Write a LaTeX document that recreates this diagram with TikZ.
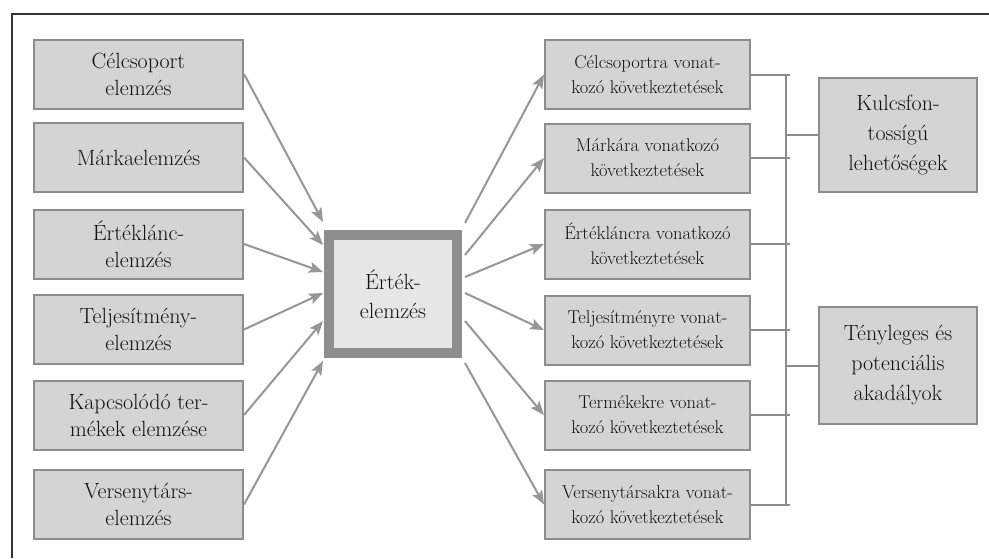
\documentclass[tikz,border=0pt]{standalone}
\usepackage{fontspec}
\usetikzlibrary{arrows.meta,calc}
\definecolor{boxfill}{HTML}{D4D4D4}
\definecolor{boxline}{HTML}{8C8C8C}
\definecolor{arrowc}{HTML}{969696}
\definecolor{centerfill}{HTML}{E6E6E6}
\definecolor{centerline}{HTML}{8E8E8E}
\definecolor{txt}{HTML}{111111}
\tikzset{
  leftbox/.style={draw=boxline, fill=boxfill, line width=2pt, minimum width=209pt, minimum height=69pt, inner sep=2pt, align=center, text=txt, font=\fontsize{22}{27}\selectfont\addfontfeatures{LetterSpace=2,FakeBold=1.8}},
  rightbox/.style={draw=boxline, fill=boxfill, line width=2pt, minimum width=205pt, minimum height=69pt, inner sep=1pt, align=center, text=txt, font=\fontsize{18.5}{25}\selectfont\addfontfeatures{LetterSpace=4,FakeBold=1.8}},
  farbox/.style={draw=boxline, fill=boxfill, line width=2pt, minimum width=158pt, inner sep=2pt, align=center, text=txt, font=\fontsize{22}{30}\selectfont\addfontfeatures{LetterSpace=2,FakeBold=1.8}},
  centerbox/.style={draw=centerline, fill=centerfill, line width=10pt, minimum width=128pt, minimum height=118pt, align=center, text=txt, font=\fontsize{22}{29}\selectfont\addfontfeatures{LetterSpace=2,FakeBold=1.8}},
  flow/.style={draw=arrowc, line width=2pt, -{Stealth[length=14pt,width=11pt,inset=3pt]}},
  bracket/.style={draw=boxline, line width=2pt},
  frameline/.style={draw=black!80, line width=2.5pt}
}
\begin{document}
\begin{tikzpicture}[x=1pt,y=-1pt]
\useasboundingbox (0,0) rectangle (989,558);
% frame
\coordinate (fa) at (12,558);
\coordinate (fb) at (12,14);
\coordinate (fc) at (989,14);
\draw[frameline] (fa) -- (fb) -- (fc);

% left boxes
\node[leftbox] (l1) at (138.5,74) {Célcsoport\\elemzés};
\node[leftbox] (l2) at (138.5,157.5) {Márkaelemzés};
\node[leftbox] (l3) at (138.5,244) {Értéklánc-\\elemzés};
\node[leftbox] (l4) at (138.5,329.5) {Teljesítmény-\\elemzés};
\node[leftbox] (l5) at (138.5,415) {Kapcsolódó ter-\\mékek elemzése};
\node[leftbox] (l6) at (138.5,504.5) {Versenytárs-\\elemzés};

% center
\node[centerbox] (c) at (393,294) {Érték-\\elemzés};

% right boxes
\node[rightbox] (r1) at (647.5,74.5) {Célcsoportra vonat-\\kozó következtetések};
\node[rightbox] (r2) at (647.5,158) {Márkára vonatkozó\\következtetések};
\node[rightbox] (r3) at (647.5,244) {Értékláncra vonatkozó\\következtetések};
\node[rightbox] (r4) at (647.5,330) {Teljesítményre vonat-\\kozó következtetések};
\node[rightbox] (r5) at (647.5,415) {Termékekre vonat-\\kozó következtetések};
\node[rightbox] (r6) at (647.5,504.5) {Versenytársakra vonat-\\kozó következtetések};

% far right boxes
\node[farbox, minimum height=114pt] (k) at (898,135) {Kulcsfon-\\tossígú\\lehetőségek};
\node[farbox, minimum height=117pt] (t) at (898,365.5) {Tényleges és\\potenciális\\akadályok};

% arrow end points at center
\coordinate (ia1) at (323,222);
\coordinate (ia2) at (323,245);
\coordinate (ia3) at (323,272);
\coordinate (ia4) at (323,293);
\coordinate (ia5) at (323,321);
\coordinate (ia6) at (323,361);
\coordinate (oa1) at (465,223);
\coordinate (oa2) at (465,255);
\coordinate (oa3) at (465,277);
\coordinate (oa4) at (465,293);
\coordinate (oa5) at (465,321);
\coordinate (oa6) at (465,363);

\foreach \i in {1,...,6} {
  \draw[flow] (l\i.east) -- (ia\i);
  \draw[flow] (oa\i) -- (r\i.west);
}

% bracket
\coordinate (vx) at (786,0);
\coordinate (sx) at (790,0);
\foreach \i in {1,...,6} {
  \draw[bracket] (r\i.east) -- (r\i.east -| sx);
}
\draw[bracket] (r1.east -| vx) -- (r6.east -| vx);
\draw[bracket] (k.west) -- (k.west -| vx);
\draw[bracket] (t.west) -- (t.west -| vx);
\end{tikzpicture}
\end{document}
